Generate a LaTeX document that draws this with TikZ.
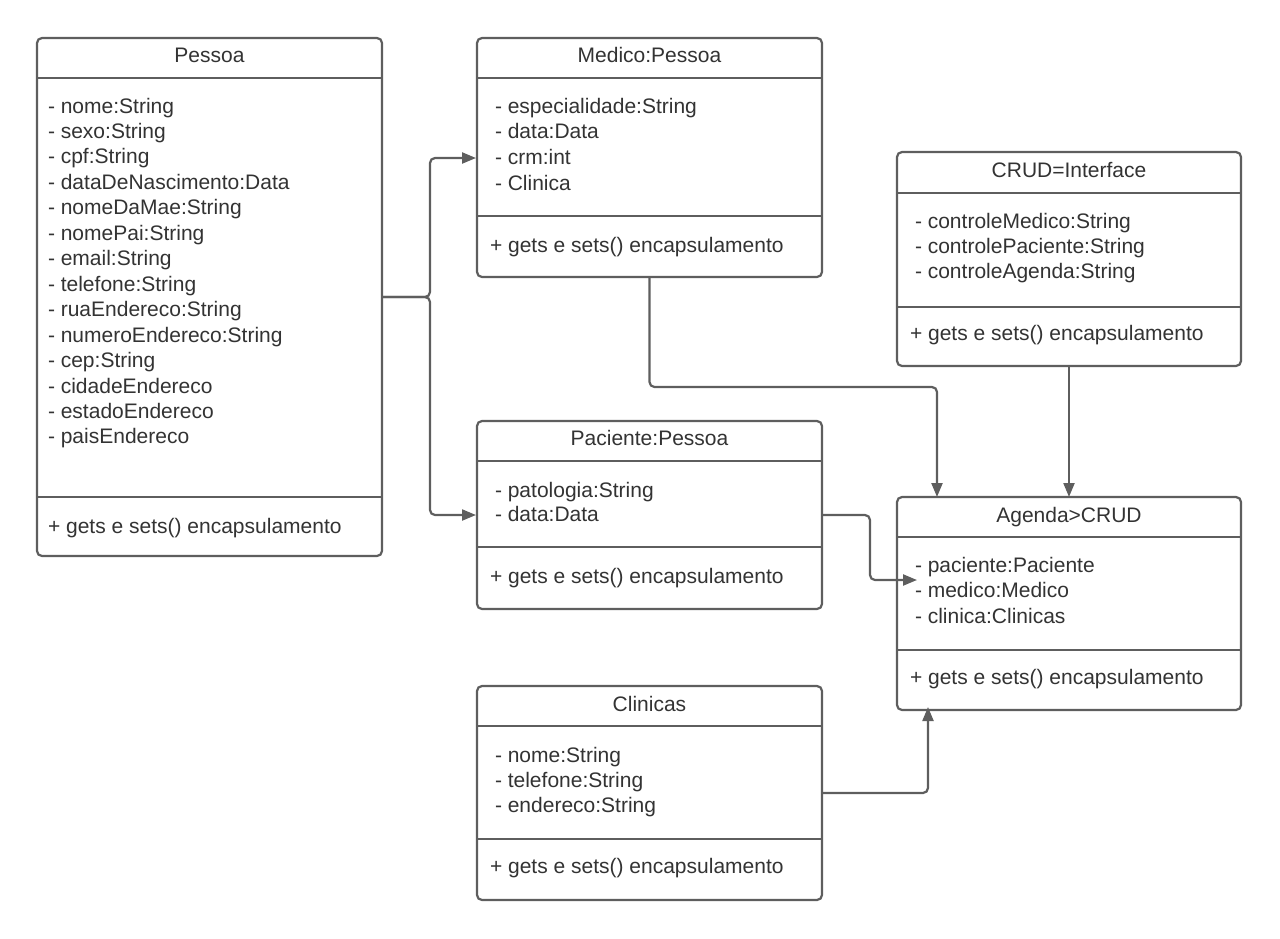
\documentclass[tikz,border=0pt]{standalone}
\usepackage{fontspec}
\setmainfont{Liberation Sans}
\usetikzlibrary{arrows.meta}
\definecolor{linegray}{RGB}{94,94,94}
\definecolor{textgray}{RGB}{51,51,51}
\begin{document}
\begin{tikzpicture}[x=1pt,y=-1pt,
  classbox/.style={draw=linegray, line width=2.2pt, rounded corners=5pt,
    fill=white, anchor=north west, inner sep=0pt, outer sep=0pt},
  divider/.style={draw=linegray, line width=2.2pt},
  txt/.style={text=textgray, inner sep=0pt, outer sep=0pt,
    font=\fontsize{21}{25}\selectfont},
  member/.style={txt, anchor=base west},
  title/.style={txt, anchor=base},
  conn/.style={draw=linegray, line width=2.2pt, rounded corners=5pt,
    -{Triangle[length=14pt,width=11pt]}}]

\useasboundingbox (0,0) rectangle (1280,938);

% ---------- Pessoa ----------
\node[classbox, minimum width=345pt, minimum height=518pt] (pessoa) at (37,38) {};
\draw[divider] (pessoa.west |- 0,78) -- (pessoa.east |- 0,78);
\draw[divider] (pessoa.west |- 0,497) -- (pessoa.east |- 0,497);
\node[title] (pessoa-t) at (pessoa.north |- 0,62) {Pessoa};
\foreach \a [count=\i] in {nome:String, sexo:String, cpf:String,
    dataDeNascimento:Data, nomeDaMae:String, nomePai:String, email:String,
    telefone:String, ruaEndereco:String, numeroEndereco:String, cep:String,
    cidadeEndereco, estadoEndereco, paisEndereco}
  \node[member] (pessoa-a\i) at (48, {113+25.46*(\i-1)}) {- \a};
\node[member] (pessoa-m) at (48,533) {+ gets e sets() encapsulamento};

% ---------- Medico ----------
\node[classbox, minimum width=345pt, minimum height=239pt] (medico) at (477,38) {};
\draw[divider] (medico.west |- 0,78) -- (medico.east |- 0,78);
\draw[divider] (medico.west |- 0,216) -- (medico.east |- 0,216);
\node[title] (medico-t) at (medico.north |- 0,62) {Medico:Pessoa};
\foreach \a [count=\i] in {especialidade:String, data:Data, crm:int, Clinica}
  \node[member] (medico-a\i) at (495, {113+25.7*(\i-1)}) {- \a};
\node[member] (medico-m) at (490,252) {+ gets e sets() encapsulamento};

% ---------- CRUD=Interface ----------
\node[classbox, minimum width=344pt, minimum height=214pt] (crud) at (897,152) {};
\draw[divider] (crud.west |- 0,193) -- (crud.east |- 0,193);
\draw[divider] (crud.west |- 0,307) -- (crud.east |- 0,307);
\node[title] (crud-t) at (crud.north |- 0,177) {CRUD=Interface};
\foreach \a [count=\i] in {controleMedico:String, controlePaciente:String,
    controleAgenda:String}
  \node[member] (crud-a\i) at (915, {228+25*(\i-1)}) {- \a};
\node[member] (crud-m) at (910,340) {+ gets e sets() encapsulamento};

% ---------- Paciente ----------
\node[classbox, minimum width=345pt, minimum height=188pt] (paciente) at (477,421) {};
\draw[divider] (paciente.west |- 0,461) -- (paciente.east |- 0,461);
\draw[divider] (paciente.west |- 0,547) -- (paciente.east |- 0,547);
\node[title] (paciente-t) at (paciente.north |- 0,445) {Paciente:Pessoa};
\foreach \a [count=\i] in {patologia:String, data:Data}
  \node[member] (paciente-a\i) at (495, {497+24.5*(\i-1)}) {- \a};
\node[member] (paciente-m) at (490,583) {+ gets e sets() encapsulamento};

% ---------- Agenda>CRUD ----------
\node[classbox, minimum width=344pt, minimum height=213pt] (agenda) at (897,497) {};
\draw[divider] (agenda.west |- 0,537) -- (agenda.east |- 0,537);
\draw[divider] (agenda.west |- 0,650) -- (agenda.east |- 0,650);
\node[title] (agenda-t) at (agenda.north |- 0,522) {Agenda>CRUD};
\foreach \a [count=\i] in {paciente:Paciente, medico:Medico, clinica:Clinicas}
  \node[member] (agenda-a\i) at (915, {572+25.5*(\i-1)}) {- \a};
\node[member] (agenda-m) at (910,684) {+ gets e sets() encapsulamento};

% ---------- Clinicas ----------
\node[classbox, minimum width=345pt, minimum height=214pt] (clinicas) at (477,686) {};
\draw[divider] (clinicas.west |- 0,726) -- (clinicas.east |- 0,726);
\draw[divider] (clinicas.west |- 0,839) -- (clinicas.east |- 0,839);
\node[title] (clinicas-t) at (clinicas.north |- 0,711) {Clinicas};
\foreach \a [count=\i] in {nome:String, telefone:String, endereco:String}
  \node[member] (clinicas-a\i) at (495, {762+25*(\i-1)}) {- \a};
\node[member] (clinicas-m) at (490,873) {+ gets e sets() encapsulamento};

% ---------- connectors ----------
\coordinate (fork) at (430,297);
\draw[conn] (pessoa.east) -- (fork) |- ([xshift=-1pt]medico.west |- 0,158);
\draw[conn] (pessoa.east) -- (fork) |- ([xshift=-1pt]paciente.west |- 0,515);

\coordinate (mbend) at (937,387);
\draw[conn] (medico.south) |- (mbend) -- (mbend |- agenda.north);

\draw[conn] (crud.south) -- (agenda.north);

\coordinate (pbend) at (870,580);
\draw[conn] (paciente.east) -| (pbend) -- ([xshift=20pt]agenda.west |- pbend);

\coordinate (cbend) at (928,793);
\draw[conn] (clinicas.east) -- (cbend) -- ([yshift=3pt]cbend |- agenda.south);

\end{tikzpicture}
\end{document}
